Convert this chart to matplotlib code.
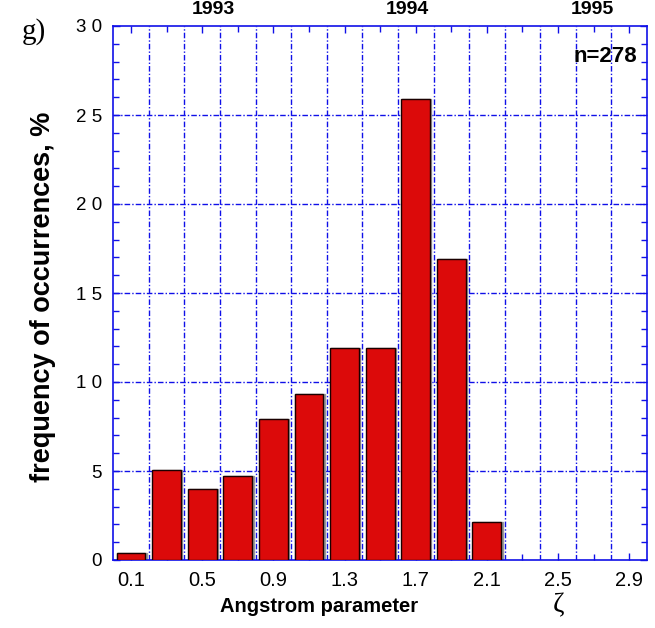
import numpy as np
import matplotlib
matplotlib.use("Agg")
import matplotlib.pyplot as plt

# Data
bin_centers = [0.1, 0.3, 0.5, 0.7, 0.9, 1.1, 1.3, 1.5, 1.7, 1.9, 2.1]
frequency = [0.4, 5.05, 4.0, 4.7, 7.9, 9.3, 11.9, 11.9, 25.9, 16.9, 2.15]
xtick_vals = [0.1, 0.5, 0.9, 1.3, 1.7, 2.1, 2.5, 2.9]
xtick_labels = ["0.1", "0.5", "0.9", "1.3", "1.7", "2.1", "2.5", "2.9"]
ytick_vals = [0, 5, 10, 15, 20, 25, 30]
ytick_labels = ["0", "5", "1 0", "1 5", "2 0", "2 5", "3 0"]
years = ["1993", "1994", "1995"]
year_px = [213, 407, 592]

plt.rcParams['font.family'] = ['Liberation Sans', 'DejaVu Sans']

W, H = 655, 628
fig = plt.figure(figsize=(W / 100, H / 100), dpi=100)
ax = fig.add_axes([113.3 / W, 1 - 560 / H, 533.7 / W, 534 / H])

blue = '#1010e8'
ax.set_xlim(0, 3.0)
ax.set_ylim(0, 30)

# grid
for gx in np.arange(0.2, 3.0, 0.2):
    ax.axvline(gx, color=blue, lw=1.0, ls=(0, (4, 1.5, 1, 1.5)), zorder=1)
for gy in [5, 10, 15, 20, 25]:
    ax.axhline(gy, color=blue, lw=1.0, ls=(0, (4, 1.5, 1, 1.5)), zorder=1)

# shadow + bars
ax.bar([c + 0.006 for c in bin_centers], frequency, width=0.165, color='#9a9a9a',
       edgecolor='#9a9a9a', lw=1.0, zorder=2)
ax.bar(bin_centers, frequency, width=0.162, color='#dc0a0a', edgecolor='#1a0000',
       lw=1.0, zorder=3)

# ticks
ax.set_xticks(np.arange(0.1, 3.0, 0.2), minor=True)
ax.set_xticks(xtick_vals)
ax.set_xticklabels(xtick_labels, fontsize=14.5)
ax.set_yticks(np.arange(0, 31, 1), minor=True)
ax.set_yticks(ytick_vals)
ax.set_yticklabels(ytick_labels, fontsize=13.5)
ax.tick_params(which='both', direction='in', top=True, right=True, color=blue)
ax.tick_params(which='major', length=5, width=1)
ax.tick_params(which='minor', length=4, width=1)
ax.tick_params(axis='x', pad=8)
ax.tick_params(axis='y', pad=8)
for s in ax.spines.values():
    s.set_color(blue)
    s.set_linewidth(1.2)

fig.text(43 / W, 1 - 297 / H, "frequency of occurrences, %", rotation=90,
         fontsize=19.5, fontweight='bold', ha='center', va='center')
fig.text(319 / W, 1 - 607 / H, "Angstrom parameter", fontsize=14.5,
         fontweight='bold', ha='center', va='center')
fig.text(558 / W, 1 - 606 / H, "ζ", fontsize=20, family=['Liberation Serif', 'DejaVu Serif'],
         ha='center', va='center')

for yr, xp in zip(years, year_px):
    fig.text(xp / W, 1 - 9 / H, yr, ha='center', va='center', fontsize=14,
             fontweight='bold')

fig.text(34 / W, 1 - 32 / H, "g)", fontsize=21, family=['Liberation Serif', 'DejaVu Serif'],
         ha='center', va='center')
fig.text(637 / W, 1 - 57 / H, "n=278", ha='right', va='center',
         fontsize=16, fontweight='bold', zorder=5)

fig.savefig("out.png", dpi=100)
